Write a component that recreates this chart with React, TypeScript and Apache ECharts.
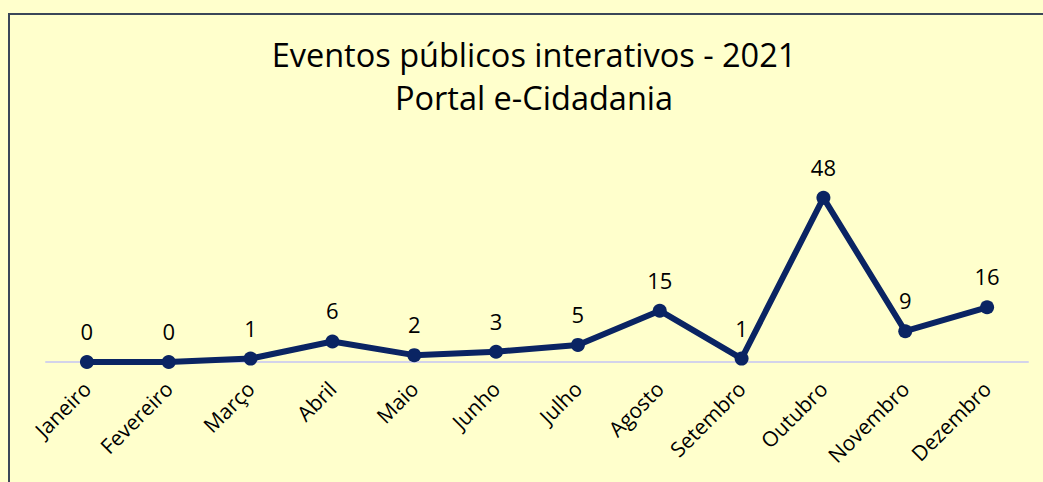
import React, { useEffect, useRef } from "react";
import * as echarts from "echarts";

const months = ["Janeiro", "Fevereiro", "Março", "Abril", "Maio", "Junho", "Julho", "Agosto", "Setembro", "Outubro", "Novembro", "Dezembro"];
const eventos = [0, 0, 1, 6, 2, 3, 5, 15, 1, 48, 9, 16];
const titleLines = ["Eventos públicos interativos - 2021", "Portal e-Cidadania"];

export default function App() {
  const ref = useRef<HTMLDivElement>(null);
  useEffect(() => {
    const chart = echarts.init(ref.current!, null, { renderer: "svg" });
    chart.setOption({
      animation: false,
      backgroundColor: "#FFFFCC",
      title: {
        text: titleLines.join("\n"),
        left: 529,
        textAlign: "center",
        top: 28,
        textStyle: { fontFamily: "Open Sans", fontSize: 32.5, fontWeight: "normal", color: "#000", lineHeight: 43 },
      },
      graphic: [
        {
          type: "rect",
          shape: { x: 9, y: 14, width: 1100, height: 500 },
          style: { fill: "none", stroke: "#3B4759", lineWidth: 2 },
          silent: true,
        },
      ],
      grid: { left: 46, right: 15, top: 191, height: 171 },
      xAxis: {
        type: "category",
        data: months,
        boundaryGap: true,
        axisLine: { lineStyle: { color: "#D3D3EA", width: 2 } },
        axisTick: { show: false },
        axisLabel: { rotate: 45, margin: 23, fontFamily: "Open Sans", fontSize: 21, color: "#000" },
      },
      yAxis: {
        type: "value",
        min: 0,
        max: 50,
        show: false,
        splitLine: { show: false },
      },
      series: [
        {
          type: "line",
          data: eventos,
          lineStyle: { color: "#0A2463", width: 6 },
          itemStyle: { color: "#0A2463" },
          symbol: "circle",
          symbolSize: 14,
          label: { show: true, position: "top", distance: 13, fontFamily: "Open Sans", fontSize: 22, color: "#000" },
        },
      ],
    });
    return () => chart.dispose();
  }, []);
  return (
    <div style={{ position: "fixed", left: 0, top: 0, width: 1043, height: 482, background: "#FFFFCC" }}>
      <div ref={ref} style={{ width: 1043, height: 482 }} />
    </div>
  );
}
